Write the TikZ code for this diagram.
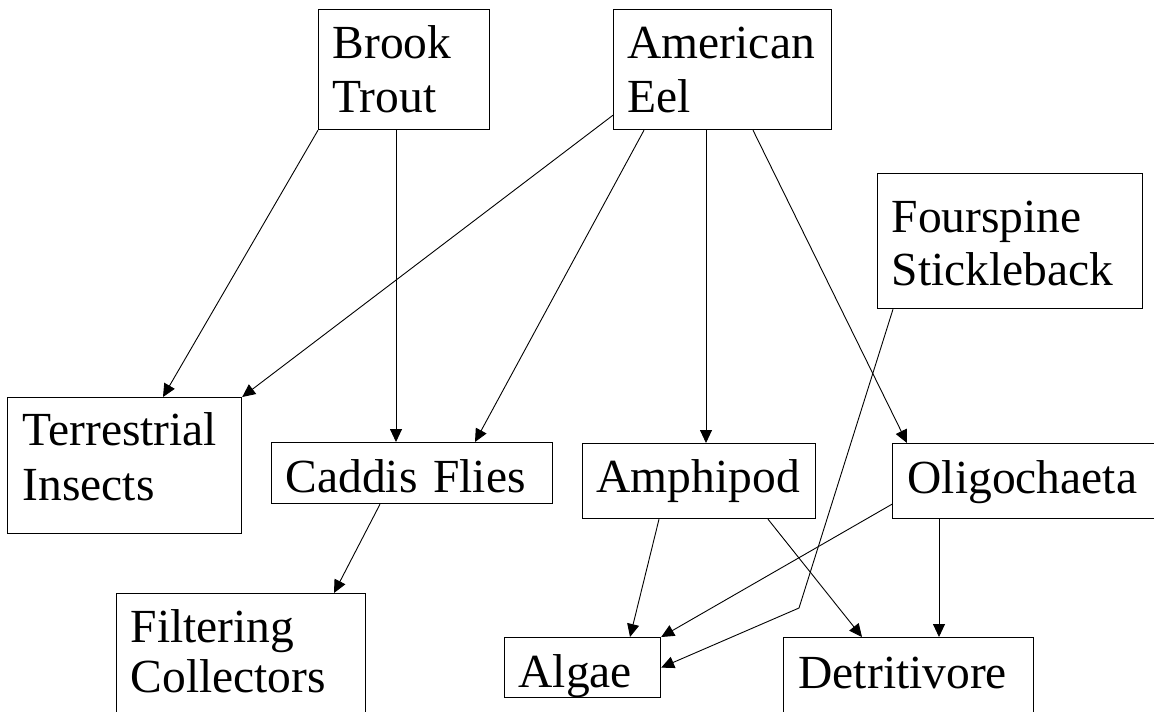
\documentclass[tikz,border=0pt]{standalone}
\usepackage{fontspec}
\setmainfont{Liberation Serif}
\usetikzlibrary{arrows.meta}
\begin{document}
\begin{tikzpicture}[x=1pt,y=-1pt,
  box/.style={draw, line width=1.2pt, anchor=north west, inner ysep=0pt,
    align=left, font=\fontsize{47.5}{54}\selectfont},
  lsk/.style={font=\fontsize{47.5}{#1}\selectfont},
  link/.style={line width=0.9pt, -{Triangle[length=13pt,width=12pt]}}]
\useasboundingbox (0,0) rectangle (1154,712);
\clip (0,0) rectangle (1154,712);
% boxes
\node[box, inner xsep=14pt, text width=143pt, text height=49pt, text depth=71pt] (bt) at (318,9) {Brook\\Trout};
\node[box, inner xsep=14pt, text width=190pt, text height=49pt, text depth=71pt] (ae) at (613,9) {American\\Eel};
\node[box, lsk=53, inner xsep=14pt, text width=237pt, text height=59pt, text depth=76pt] (fs) at (877,173) {Fourspine\\Stickleback};
\node[box, lsk=55, inner xsep=15pt, text width=204pt, text height=48pt, text depth=88pt] (ti) at (7,397) {Terrestrial\\Insects};
\node[box, inner xsep=14pt, text width=253pt, text height=50pt, text depth=11pt] (cf) at (271,442) {Caddis Flies};
\node[box, inner xsep=14pt, text width=205pt, text height=49pt, text depth=26pt] (am) at (582,443) {Amphipod};
\node[box, inner xsep=15pt, text width=248pt, text height=50pt, text depth=25pt] (ol) at (892,443) {Oligochaeta};
\node[box, lsk=50, inner xsep=14pt, text width=221pt, text height=49pt, text depth=100pt] (fc) at (116,593) {Filtering\\Collectors};
\node[box, inner xsep=14pt, text width=128pt, text height=50pt, text depth=10pt] (al) at (504,637) {Algae};
\node[box, inner xsep=15pt, text width=220pt, text height=51pt, text depth=50pt] (de) at (783,637) {Detritivore};
\coordinate (bend) at (799,608);
% connectors
\draw[link] (bt.south west) -- ([xshift=156pt]ti.north west);
\draw[link] ([xshift=78pt]bt.south west) -- ([xshift=125pt]cf.north west);
\draw[link] ([yshift=15pt]ae.south west) -- (ti.north east);
\draw[link] ([xshift=31pt]ae.south west) -- ([xshift=204pt]cf.north west);
\draw[link] ([xshift=93pt]ae.south west) -- ([xshift=124pt]am.north west);
\draw[link] ([xshift=140pt]ae.south west) -- ([xshift=15pt]ol.north west);
\draw[link] ([xshift=16pt]fs.south west) -- (bend) -- (al.east);
\draw[link] ([yshift=15pt]ol.south west) -- (al.north east);
\draw[link] ([xshift=77pt]am.south west) -- ([xshift=126pt]al.north west);
\draw[link] ([xshift=186pt]am.south west) -- ([xshift=79pt]de.north west);
\draw[link] ([xshift=47pt]ol.south west) -- ([xshift=156pt]de.north west);
\draw[link] ([xshift=109pt]cf.south west) -- ([xshift=218pt]fc.north west);
\end{tikzpicture}
\end{document}
